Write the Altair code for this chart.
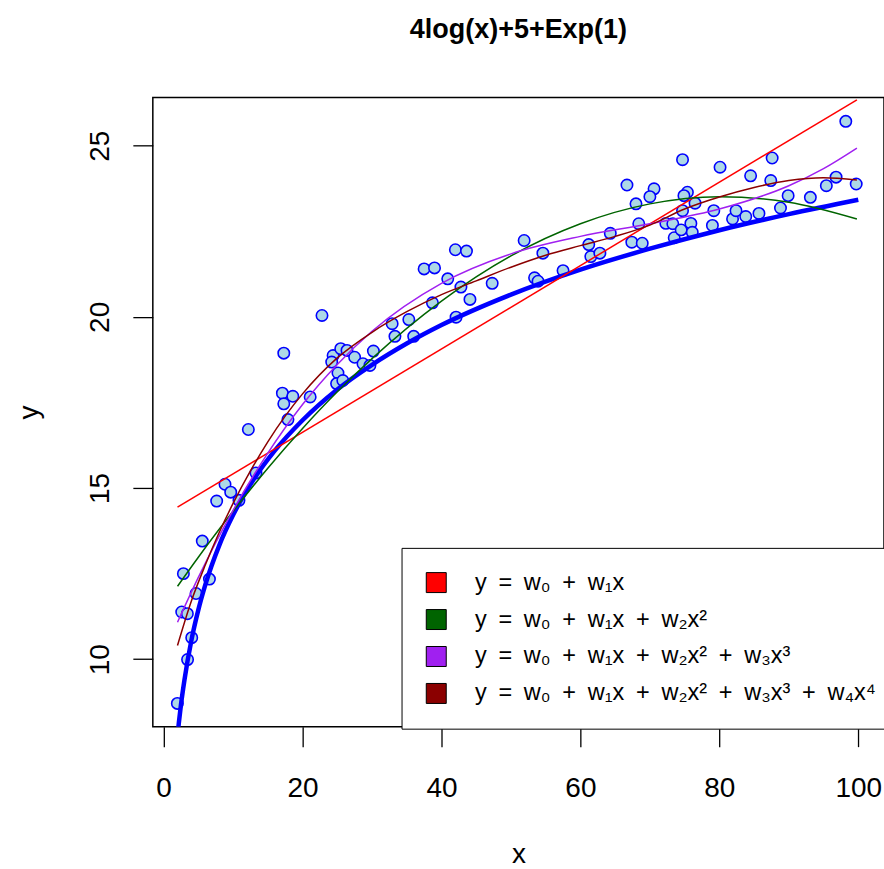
import altair as alt
import pandas as pd

# ---- scatter points ----
pts_x = [1.98, 3.45, 4.05, 2.61, 3.42, 4.67, 2.85, 6.6, 5.57, 7.64,
         8.84, 9.66, 10.85, 12.2, 13.3, 17.3, 17.1, 18.6, 17.3, 21.1,
         17.9, 22.8, 24.4, 25.5, 24.2, 26.4, 27.5, 28.7, 30.2, 33.3,
         25.1, 24.9, 25.8, 29.7, 32.9, 35.3, 36.0, 38.7, 42.1, 37.5,
         39.0, 40.9, 42.0, 43.6, 42.8, 44.1, 47.3, 51.9, 54.6, 53.4,
         53.9, 57.5, 61.2, 61.5, 62.8, 64.3, 66.7, 68.0, 68.4, 67.4,
         68.9, 70.6, 70.0, 72.3, 73.3, 73.5, 74.5, 74.7, 75.4, 74.9,
         76.5, 74.7, 75.9, 76.1, 79.0, 79.2, 80.1, 81.9, 82.4, 83.8,
         84.5, 85.7, 87.4, 87.6, 88.8, 89.9, 93.1, 95.4, 96.8, 98.2,
         99.7]
pts_y = [8.71, 9.99, 10.63, 11.38, 11.33, 11.92, 12.5, 12.34, 13.45, 14.62,
         15.11, 14.88, 14.64, 16.71, 15.44, 18.94, 17.77, 17.68, 17.46, 17.66,
         17.0, 20.04, 18.87, 19.07, 18.68, 19.02, 18.82, 18.63, 19.0, 19.43,
         18.36, 18.05, 18.14, 18.58, 19.8, 19.92, 19.43, 20.41, 19.99, 21.40,
         21.43, 21.11, 21.96, 21.92, 20.87, 20.51, 20.98, 22.23, 21.86, 21.14,
         21.04, 21.35, 22.11, 21.76, 21.86, 22.44, 23.85, 23.30, 22.72, 22.18,
         22.15, 23.74, 23.51, 22.73, 22.72, 22.31, 22.54, 24.59, 23.64, 23.54,
         23.32, 23.10, 22.73, 22.47, 22.67, 23.10, 24.37, 22.86, 23.10, 22.93,
         24.12, 23.02, 23.98, 24.64, 23.18, 23.54, 23.49, 23.83, 24.08, 25.71,
         23.88]

# ---- true curve (thick blue) ----
true_x = [2.0, 2.2, 2.5, 3, 4, 5, 6, 8, 10, 13, 16, 20, 25, 30, 35, 40, 50, 60, 70, 80, 90, 100]
true_y = [7.77, 8.15, 8.67, 9.39, 10.55, 11.44, 12.17, 13.32, 14.21, 15.26, 16.09, 16.98,
          17.88, 18.60, 19.22, 19.76, 20.65, 21.38, 21.99, 22.53, 23.00, 23.42]

# ---- fitted polynomial curves ----
lin_x = [2.0, 99.8]
lin_y = [14.44, 26.34]
quad_x = [2.0, 5, 10, 15, 20, 25, 30, 40, 50, 60, 70, 80, 90, 99.8]
quad_y = [12.13, 12.98, 14.32, 15.58, 16.74, 17.81, 18.78, 20.46, 21.78, 22.72, 23.30, 23.51, 23.35, 22.86]
cub_x = [2.0, 5, 10, 15, 20, 25, 30, 40, 50, 60, 70, 80, 90, 95, 99.8]
cub_y = [11.08, 12.39, 14.35, 16.02, 17.44, 18.61, 19.58, 20.98, 21.84, 22.35, 22.72, 23.15, 23.83, 24.33, 24.93]
quart_x = [2.0, 4, 6, 8, 10, 12.5, 15, 17.5, 20, 25, 30, 35, 40, 45, 50, 55, 60, 65, 70, 75, 80, 85, 90, 95, 99.8]
quart_y = [10.40, 11.7, 12.75, 13.7, 14.55, 15.5, 16.35, 17.1, 17.75, 18.8, 19.55, 20.15, 20.65, 21.05,
           21.45, 21.8, 22.08, 22.35, 22.68, 23.15, 23.5, 23.78, 23.98, 24.06, 24.0]

SP = "\u2002"  # wider space, as in R's plotmath spacing
labels = [
    f"y{SP}={SP}w₀{SP}+{SP}w₁x",
    f"y{SP}={SP}w₀{SP}+{SP}w₁x{SP}+{SP}w₂x²",
    f"y{SP}={SP}w₀{SP}+{SP}w₁x{SP}+{SP}w₂x²{SP}+{SP}w₃x³",
    f"y{SP}={SP}w₀{SP}+{SP}w₁x{SP}+{SP}w₂x²{SP}+{SP}w₃x³{SP}+{SP}w₄x⁴",
]
colors = ["#FF0000", "#006400", "#A020F0", "#8B0000"]

FONT = "Liberation Sans, Arial, sans-serif"

pts = pd.DataFrame({"x": pts_x, "y": pts_y})
true_df = pd.DataFrame({"x": true_x, "y": true_y})
fits = pd.concat([
    pd.DataFrame({"x": lin_x, "y": lin_y, "model": labels[0]}),
    pd.DataFrame({"x": quad_x, "y": quad_y, "model": labels[1]}),
    pd.DataFrame({"x": cub_x, "y": cub_y, "model": labels[2]}),
    pd.DataFrame({"x": quart_x, "y": quart_y, "model": labels[3]}),
], ignore_index=True)
legend_df = pd.DataFrame({"model": labels})

xscale = alt.Scale(domain=[-1.55, 103.7], nice=False, zero=False)
yscale = alt.Scale(domain=[8.03, 26.41], nice=False, zero=False)

X = alt.X("x:Q", scale=xscale, axis=alt.Axis(
    values=[0, 20, 40, 60, 80, 100], title="x", format="d",
    labelPadding=28, labelBaseline="top",
    titleX=366, titleY=128, titleAlign="center", titleBaseline="middle"))
Y = alt.Y("y:Q", scale=yscale, axis=alt.Axis(
    values=[10, 15, 20, 25], title="y", format="d",
    labelAngle=270, labelAlign="center", labelBaseline="alphabetic", labelPadding=24,
    titleAngle=270, titleX=-123, titleY=315, titleAlign="center", titleBaseline="middle"))

points = alt.Chart(pts).mark_point(
    shape="circle", filled=True, fill="#ADD8E6", stroke="#0000FF",
    strokeWidth=1.6, size=130, opacity=1, fillOpacity=1, strokeOpacity=1
).encode(x=X, y=Y)

true_line = alt.Chart(true_df).mark_line(
    color="#0000FF", strokeWidth=4.5, interpolate="monotone", clip=True
).encode(x=X, y=Y)

fit_layers = [
    alt.Chart(fits).transform_filter(alt.datum.model == lab).mark_line(
        color=col, strokeWidth=1.5, interpolate="monotone", clip=True
    ).encode(x=X, y=Y)
    for lab, col in zip(labels, colors)
]

legend_layer = alt.Chart(legend_df).mark_square(
    stroke="black", strokeWidth=1, opacity=0, size=10
).encode(
    fill=alt.Fill("model:N", scale=alt.Scale(domain=labels, range=colors), legend=alt.Legend(
        orient="none", legendX=249, legendY=451, title=None,
        symbolType="square", symbolSize=400, symbolStrokeColor="black",
        symbolStrokeWidth=1, symbolOpacity=1,
        labelFont=FONT, labelFontSize=23.5, labelColor="black", labelLimit=900,
        labelOffset=27, padding=23, rowPadding=12,
        strokeColor="black", fillColor="white", cornerRadius=0,
    ))
)

chart = alt.layer(points, true_line, *fit_layers, legend_layer).properties(
    width=732, height=630,
    autosize=alt.AutoSizeParams(type="none"),
    padding={"left": 153, "top": 97, "right": 0, "bottom": 142},
    background="white",
    title=alt.TitleParams("4log(x)+5+Exp(1)", font=FONT, fontSize=27, fontWeight="bold",
                          color="black", anchor="middle", baseline="alphabetic", offset=32),
).configure_view(
    stroke="black", strokeWidth=1.5
).configure_axis(
    domain=False, grid=False, tickColor="black", tickWidth=1.3, tickSize=20,
    labelFont=FONT, labelFontSize=28, labelColor="black",
    titleFont=FONT, titleFontSize=28, titleFontWeight="normal", titleColor="black",
)

chart.save("out.html", embed_options={"renderer": "svg", "actions": False})
